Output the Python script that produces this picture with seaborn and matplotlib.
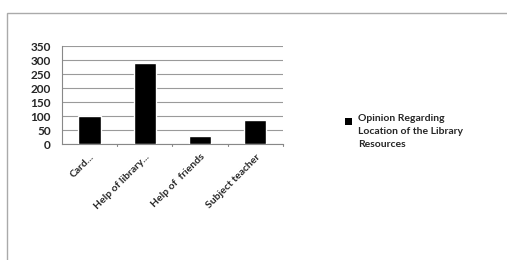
import matplotlib
matplotlib.use("Agg")
import matplotlib.pyplot as plt
from matplotlib.patches import Rectangle
import seaborn as sns
import pandas as pd

categories = ["Card...", "Help of library...", "Help of  friends", "Subject teacher"]
values = [100, 290, 28, 85]
series_name = "Opinion Regarding\nLocation of the Library\nResources"
yticks = [0, 50, 100, 150, 200, 250, 300, 350]

df = pd.DataFrame({"category": categories, "value": values})

sns.set_style("white")
plt.rcParams["font.family"] = ["Lato", "DejaVu Sans"]

fig = plt.figure(figsize=(5.07, 2.6), dpi=100)
ax = fig.add_axes([0.122, 0.446, 0.436, 0.377])

sns.barplot(data=df, x="category", y="value", color="black", width=0.4,
            ax=ax, zorder=3)

ax.set_ylim(0, 350)
ax.set_yticks(yticks)
ax.set_xlim(-0.5, len(categories) - 0.5)
ax.yaxis.grid(True, color="#9a9a9a", linewidth=0.8, zorder=0)
ax.set_xlabel("")
ax.set_ylabel("")
for s in ["top", "right"]:
    ax.spines[s].set_visible(False)
ax.spines["left"].set_color("#888888")
ax.spines["bottom"].set_color("#888888")
ax.tick_params(axis="y", labelsize=8.5, length=0, pad=8)
ax.set_yticklabels([str(t) for t in yticks], fontweight="bold")
ax.set_xticks(range(len(categories)))
ax.set_xticklabels(categories, rotation=45, ha="right", rotation_mode="anchor",
                   fontsize=7.5, fontweight="bold")
ax.tick_params(axis="x", length=0, pad=6)
# tick marks between categories
for xb in [0.5, 1.5, 2.5, 3.5]:
    ax.plot([xb, xb], [0, -6], color="#888888", lw=0.8, clip_on=False)

# legend: series name next to a small black square
fig.patches.append(Rectangle((345 / 507, 1 - 125 / 260), 7 / 507, 7 / 260,
                             transform=fig.transFigure, facecolor="black",
                             edgecolor="none"))
fig.text(358 / 507, 1 - 114 / 260, series_name, ha="left", va="top",
         fontsize=7.5, fontweight="bold", linespacing=1.55)

fig.patches.append(Rectangle((7 / 507, -0.01), 1.0, 1 - 13 / 260 + 0.01,
                             transform=fig.transFigure, fill=False,
                             edgecolor="#aaaaaa", linewidth=1))

fig.savefig("out.png", dpi=100)
